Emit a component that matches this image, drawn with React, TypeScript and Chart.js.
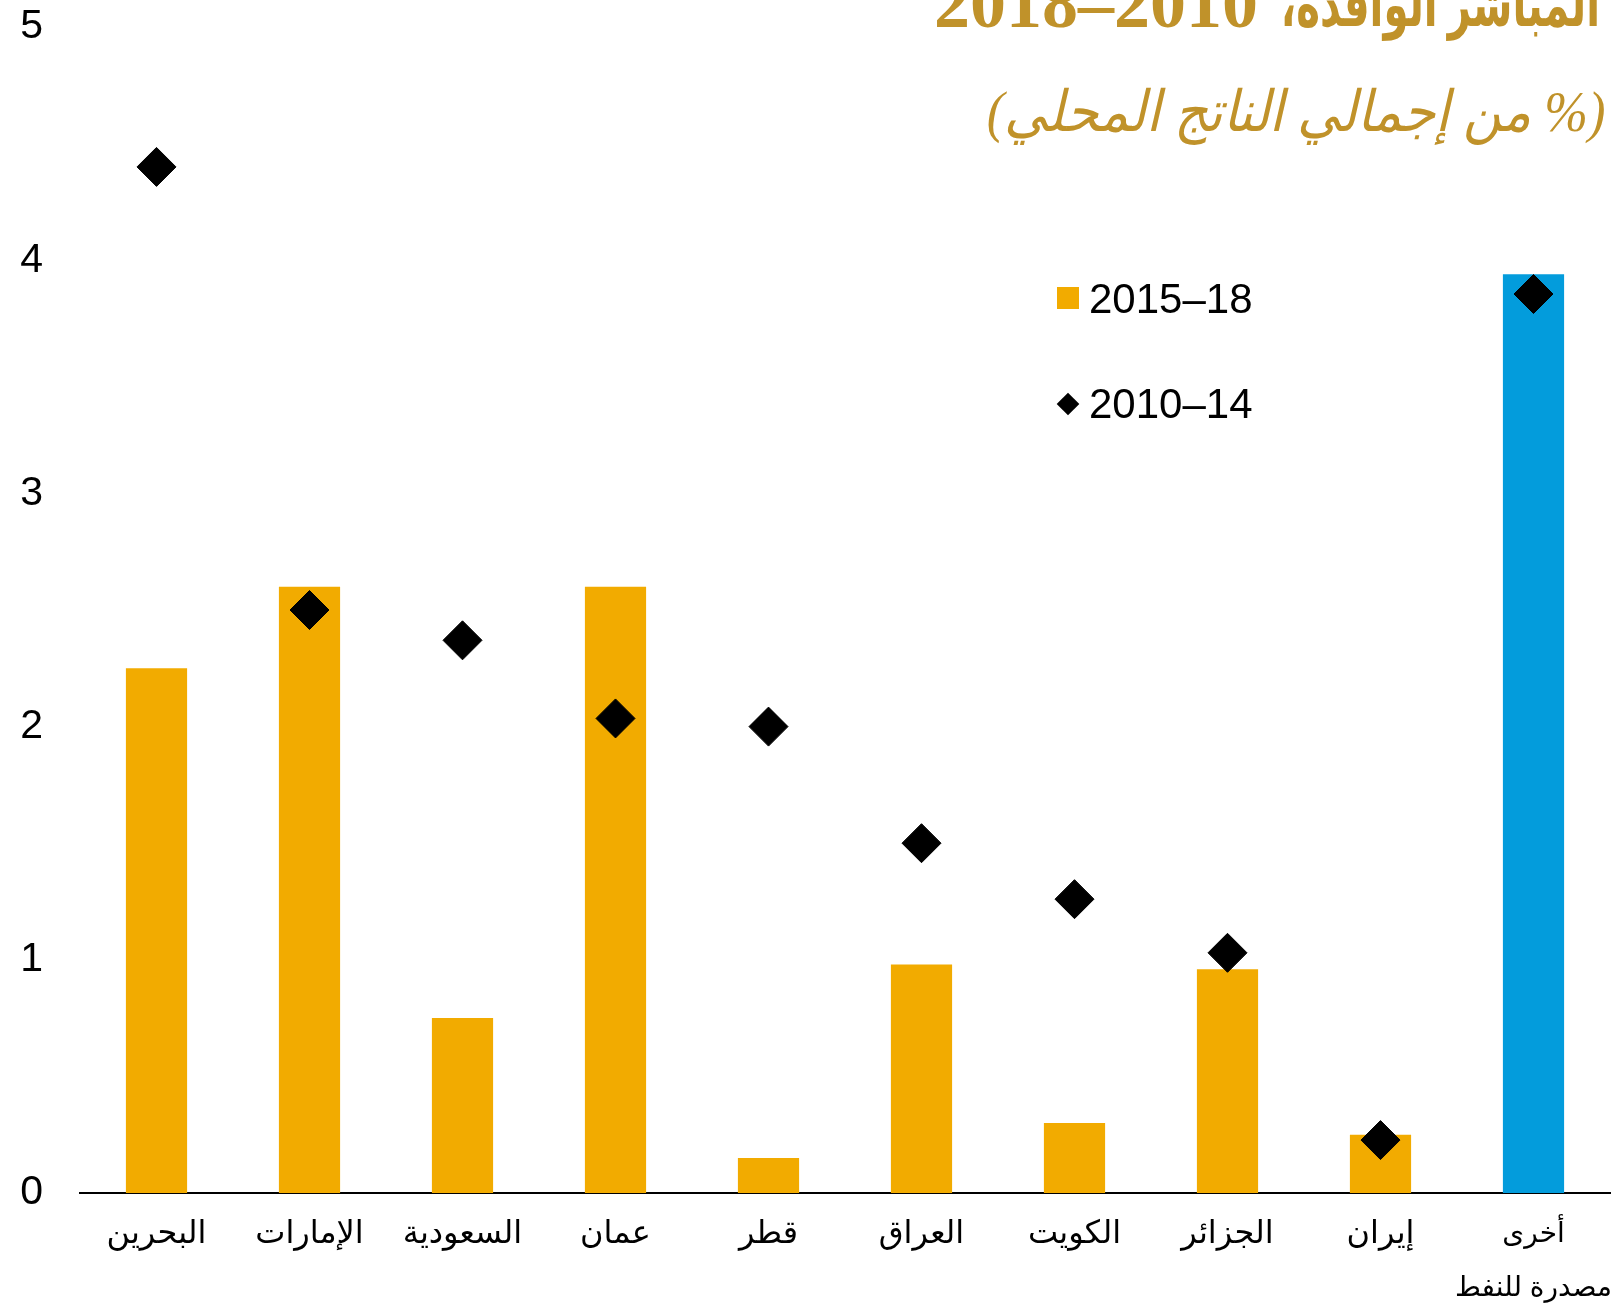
import React, { useEffect, useRef } from "react";
import { Chart, registerables } from "chart.js";

Chart.register(...registerables);

const categories: (string | string[])[] = [
  "البحرين",
  "الإمارات",
  "السعودية",
  "عمان",
  "قطر",
  "العراق",
  "الكويت",
  "الجزائر",
  "إيران",
  ["أخرى", "مصدرة للنفط"],
];

const series2015_18 = [2.25, 2.6, 0.75, 2.6, 0.15, 0.98, 0.3, 0.96, 0.25, 3.94];
const series2010_14 = [4.4, 2.5, 2.37, 2.035, 2.0, 1.5, 1.26, 1.03, 0.227, 3.855];

const seriesNames = ["2015–18", "2010–14"];
const yTicks = [0, 1, 2, 3, 4, 5];

const titleWords = "المباشر الوافدة،";
const titleYears = "2010–2018";
const subtitleText = "(% من إجمالي الناتج المحلي)";

const ORANGE = "#F2AB00";
const BLUE = "#039CDC";
const GOLD = "#C0922A";

export default function App() {
  const canvasRef = useRef<HTMLCanvasElement | null>(null);

  useEffect(() => {
    if (!canvasRef.current) return;
    const barColors = categories.map((_, i) => (i === categories.length - 1 ? BLUE : ORANGE));
    const labelFamily = "'Liberation Sans', 'DejaVu Sans', sans-serif";
    const chart = new Chart(canvasRef.current, {
      type: "bar",
      data: {
        labels: categories,
        datasets: [
          {
            type: "line",
            label: seriesNames[1],
            data: series2010_14,
            showLine: false,
            pointStyle: "rectRot",
            pointRadius: 19.5,
            pointHoverRadius: 19.5,
            pointBackgroundColor: "#000",
            pointBorderColor: "#000",
            pointBorderWidth: 1,
            clip: false,
            order: 0,
          } as any,
          {
            type: "bar",
            label: seriesNames[0],
            data: series2015_18,
            backgroundColor: barColors,
            barPercentage: 0.4,
            categoryPercentage: 1.0,
            order: 1,
          },
        ],
      },
      options: {
        animation: false,
        responsive: false,
        maintainAspectRatio: false,
        layout: { autoPadding: false, padding: { top: 27, right: 8, left: 0, bottom: 0 } },
        plugins: { legend: { display: false }, tooltip: { enabled: false } },
        scales: {
          x: {
            grid: { display: false, drawTicks: false },
            border: { display: true, color: "#000", width: 2 },
            ticks: {
              color: "#000",
              padding: 14,
              font: (ctx: any) =>
                ctx.index === categories.length - 1
                  ? { family: labelFamily, size: 28, lineHeight: "54px" }
                  : { family: labelFamily, size: 32, lineHeight: "54px" },
              maxRotation: 0,
              autoSkip: false,
            },
            afterFit: (s: any) => {
              s.height = 115;
              s.paddingLeft = 0;
              s.paddingRight = 0;
            },
          },
          y: {
            min: 0,
            max: 5,
            afterBuildTicks: (s: any) => {
              s.ticks = yTicks.map((v) => ({ value: v }));
            },
            grid: { display: false, drawTicks: false },
            border: { display: false },
            ticks: {
              color: "#000",
              padding: 37,
              font: { family: "'Liberation Sans', Arial, sans-serif", size: 41 },
            },
            afterFit: (s: any) => {
              s.width = 80;
              s.paddingTop = 0;
              s.paddingBottom = 0;
            },
          },
        },
      },
    });
    return () => chart.destroy();
  }, []);

  const legendText: React.CSSProperties = {
    position: "absolute",
    left: 1089,
    fontFamily: "'Liberation Sans', Arial, sans-serif",
    fontSize: 42,
    lineHeight: "42px",
    color: "#000",
    whiteSpace: "nowrap",
  };

  return (
    <div
      style={{
        position: "fixed",
        left: 0,
        top: 0,
        width: 1618,
        height: 1308,
        background: "#fff",
        overflow: "hidden",
      }}
    >
      <canvas ref={canvasRef} width={1618} height={1308} style={{ position: "absolute", left: 0, top: 0 }} />
      <div
        dir="rtl"
        style={{
          position: "absolute",
          right: 18,
          top: -26,
          fontFamily: "'Liberation Serif', 'DejaVu Serif', 'DejaVu Sans', serif",
          fontWeight: "bold",
          fontSize: 62,
          lineHeight: "62px",
          color: GOLD,
          whiteSpace: "nowrap",
          transform: "scaleX(0.65)",
          transformOrigin: "right center",
        }}
      >
        {titleWords}
      </div>
      <div
        dir="rtl"
        style={{
          position: "absolute",
          right: 1618 - 1258,
          top: -33,
          fontFamily: "'Liberation Serif', 'DejaVu Serif', serif",
          fontWeight: "bold",
          fontSize: 72,
          lineHeight: "72px",
          color: GOLD,
          whiteSpace: "nowrap",
        }}
      >
        {titleYears}
      </div>
      <div
        dir="rtl"
        style={{
          position: "absolute",
          right: 13,
          top: 83,
          fontFamily: "'Liberation Serif', 'DejaVu Sans', serif",
          fontStyle: "italic",
          fontSize: 57,
          lineHeight: "57px",
          color: GOLD,
          whiteSpace: "nowrap",
          transform: "scaleX(0.92)",
          transformOrigin: "right center",
        }}
      >
        {subtitleText}
      </div>
      <div style={{ position: "absolute", left: 1057, top: 287, width: 22, height: 22, background: ORANGE }} />
      <div style={{ ...legendText, top: 278 }}>{seriesNames[0]}</div>
      <div
        style={{
          position: "absolute",
          left: 1060,
          top: 396,
          width: 16,
          height: 16,
          background: "#000",
          transform: "rotate(45deg)",
        }}
      />
      <div style={{ ...legendText, top: 383 }}>{seriesNames[1]}</div>
    </div>
  );
}
